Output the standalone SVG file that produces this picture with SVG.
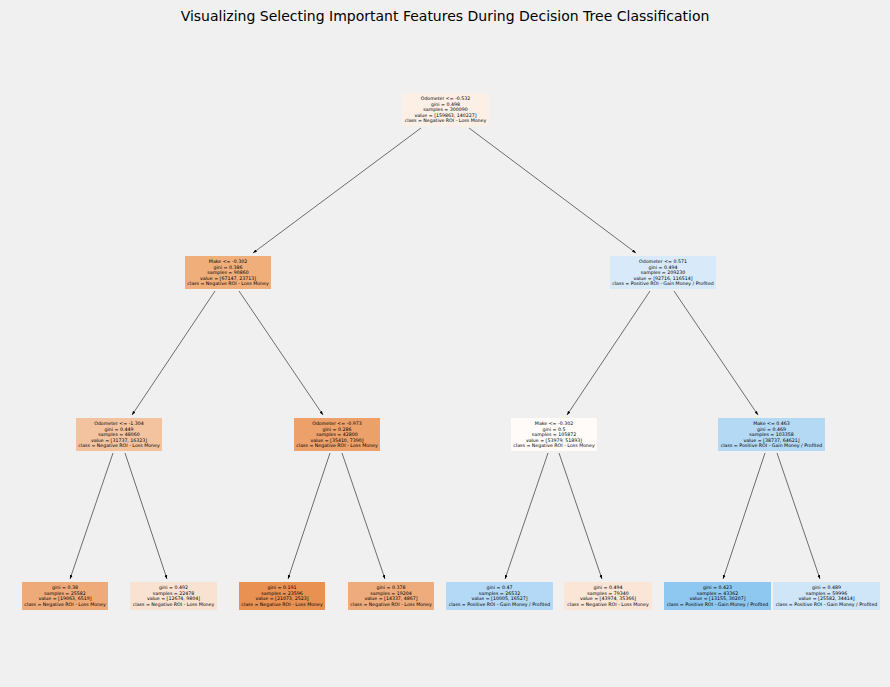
<svg xmlns="http://www.w3.org/2000/svg" width="890" height="687" viewBox="0 0 890 687">
<style>
.t{font-family:"DejaVu Sans",sans-serif;font-size:4.7px;fill:#000;text-anchor:middle}
.title{font-family:"DejaVu Sans",sans-serif;font-size:14px;fill:#000;text-anchor:middle}
.e{stroke:#000;stroke-width:0.55;fill:none;marker-end:url(#ah)}
</style>
<defs>
<marker id="ah" viewBox="0 0 10 10" refX="10" refY="5" markerWidth="4" markerHeight="4" orient="auto" markerUnits="userSpaceOnUse">
<path d="M0,1.5 L10,5 L0,8.5 z" fill="#000"/>
</marker>
</defs>
<rect width="890" height="687" fill="#f0f0f0"/>
<text class="title" x="445" y="21">Visualizing Selecting Important Features During Decision Tree Classification</text>
<g id="connectors">
<line class="e" x1="421" y1="128" x2="253" y2="253"/>
<line class="e" x1="469" y1="128" x2="636" y2="253"/>
<line class="e" x1="215" y1="291" x2="132" y2="415"/>
<line class="e" x1="239" y1="291" x2="323" y2="415"/>
<line class="e" x1="650" y1="291" x2="567" y2="415"/>
<line class="e" x1="674" y1="291" x2="758" y2="415"/>
<line class="e" x1="113" y1="453" x2="70" y2="579"/>
<line class="e" x1="125" y1="453" x2="167" y2="579"/>
<line class="e" x1="330" y1="453" x2="288" y2="579"/>
<line class="e" x1="342" y1="453" x2="385" y2="579"/>
<line class="e" x1="548" y1="453" x2="505" y2="579"/>
<line class="e" x1="559" y1="453" x2="602" y2="579"/>
<line class="e" x1="765" y1="453" x2="723" y2="579"/>
<line class="e" x1="777" y1="453" x2="820" y2="579"/>
</g>
<g id="n0"><rect x="402" y="93" width="87" height="33" fill="#fcefe6"/>
<text class="t" x="445.5" y="100">Odometer &lt;= -0.532</text><text class="t" x="445.5" y="105.5">gini = 0.498</text><text class="t" x="445.5" y="111">samples = 300090</text><text class="t" x="445.5" y="116.5">value = [159863, 140227]</text><text class="t" x="445.5" y="122">class = Negative ROI - Loss Money</text></g>
<g id="n1"><rect x="185" y="256" width="86" height="33" fill="#f0ae7b"/>
<text class="t" x="228" y="263">Make &lt;= -0.302</text><text class="t" x="228" y="268.5">gini = 0.386</text><text class="t" x="228" y="274">samples = 90860</text><text class="t" x="228" y="279.5">value = [67147, 23713]</text><text class="t" x="228" y="285">class = Negative ROI - Loss Money</text></g>
<g id="n2"><rect x="610" y="256" width="106" height="33" fill="#d8eafa"/>
<text class="t" x="663" y="263">Odometer &lt;= 0.571</text><text class="t" x="663" y="268.5">gini = 0.494</text><text class="t" x="663" y="274">samples = 209230</text><text class="t" x="663" y="279.5">value = [92716, 116514]</text><text class="t" x="663" y="285">class = Positive ROI - Gain Money / Profited</text></g>
<g id="n3"><rect x="76" y="418" width="86" height="33" fill="#f3c3a0"/>
<text class="t" x="119" y="425">Odometer &lt;= -1.304</text><text class="t" x="119" y="430.5">gini = 0.449</text><text class="t" x="119" y="436">samples = 48060</text><text class="t" x="119" y="441.5">value = [31737, 16323]</text><text class="t" x="119" y="447">class = Negative ROI - Loss Money</text></g>
<g id="n4"><rect x="294" y="418" width="86" height="33" fill="#eca06a"/>
<text class="t" x="337" y="425">Odometer &lt;= -0.973</text><text class="t" x="337" y="430.5">gini = 0.286</text><text class="t" x="337" y="436">samples = 42800</text><text class="t" x="337" y="441.5">value = [35410, 7390]</text><text class="t" x="337" y="447">class = Negative ROI - Loss Money</text></g>
<g id="n5"><rect x="511" y="418" width="86" height="33" fill="#fefbf9"/>
<text class="t" x="554" y="425">Make &lt;= -0.302</text><text class="t" x="554" y="430.5">gini = 0.5</text><text class="t" x="554" y="436">samples = 105872</text><text class="t" x="554" y="441.5">value = [53979, 51893]</text><text class="t" x="554" y="447">class = Negative ROI - Loss Money</text></g>
<g id="n6"><rect x="718" y="418" width="107" height="33" fill="#b3d9f5"/>
<text class="t" x="771.5" y="425">Make &lt;= 0.463</text><text class="t" x="771.5" y="430.5">gini = 0.469</text><text class="t" x="771.5" y="436">samples = 103358</text><text class="t" x="771.5" y="441.5">value = [38737, 64621]</text><text class="t" x="771.5" y="447">class = Positive ROI - Gain Money / Profited</text></g>
<g id="n7"><rect x="22" y="582" width="86" height="28" fill="#eeaa79"/>
<text class="t" x="65" y="589">gini = 0.38</text><text class="t" x="65" y="594.5">samples = 25582</text><text class="t" x="65" y="600">value = [19063, 6519]</text><text class="t" x="65" y="605.5">class = Negative ROI - Loss Money</text></g>
<g id="n8"><rect x="130" y="582" width="87" height="28" fill="#f9e2d2"/>
<text class="t" x="173.5" y="589">gini = 0.492</text><text class="t" x="173.5" y="594.5">samples = 22478</text><text class="t" x="173.5" y="600">value = [12674, 9804]</text><text class="t" x="173.5" y="605.5">class = Negative ROI - Loss Money</text></g>
<g id="n9"><rect x="239" y="582" width="86" height="28" fill="#e89152"/>
<text class="t" x="282" y="589">gini = 0.191</text><text class="t" x="282" y="594.5">samples = 23596</text><text class="t" x="282" y="600">value = [21073, 2523]</text><text class="t" x="282" y="605.5">class = Negative ROI - Loss Money</text></g>
<g id="n10"><rect x="348" y="582" width="86" height="28" fill="#eeab7b"/>
<text class="t" x="391" y="589">gini = 0.378</text><text class="t" x="391" y="594.5">samples = 19204</text><text class="t" x="391" y="600">value = [14337, 4867]</text><text class="t" x="391" y="605.5">class = Negative ROI - Loss Money</text></g>
<g id="n11"><rect x="446" y="582" width="107" height="28" fill="#b3d9f6"/>
<text class="t" x="499.5" y="589">gini = 0.47</text><text class="t" x="499.5" y="594.5">samples = 26532</text><text class="t" x="499.5" y="600">value = [10005, 16527]</text><text class="t" x="499.5" y="605.5">class = Positive ROI - Gain Money / Profited</text></g>
<g id="n12"><rect x="564" y="582" width="88" height="28" fill="#fae5d6"/>
<text class="t" x="608" y="589">gini = 0.494</text><text class="t" x="608" y="594.5">samples = 79340</text><text class="t" x="608" y="600">value = [43974, 35366]</text><text class="t" x="608" y="605.5">class = Negative ROI - Loss Money</text></g>
<g id="n13"><rect x="664" y="582" width="107" height="28" fill="#8ec7f0"/>
<text class="t" x="717.5" y="589">gini = 0.423</text><text class="t" x="717.5" y="594.5">samples = 43362</text><text class="t" x="717.5" y="600">value = [13155, 30207]</text><text class="t" x="717.5" y="605.5">class = Positive ROI - Gain Money / Profited</text></g>
<g id="n14"><rect x="773" y="582" width="107" height="28" fill="#cfe5f8"/>
<text class="t" x="826.5" y="589">gini = 0.489</text><text class="t" x="826.5" y="594.5">samples = 59996</text><text class="t" x="826.5" y="600">value = [25582, 34414]</text><text class="t" x="826.5" y="605.5">class = Positive ROI - Gain Money / Profited</text></g>
</svg>
